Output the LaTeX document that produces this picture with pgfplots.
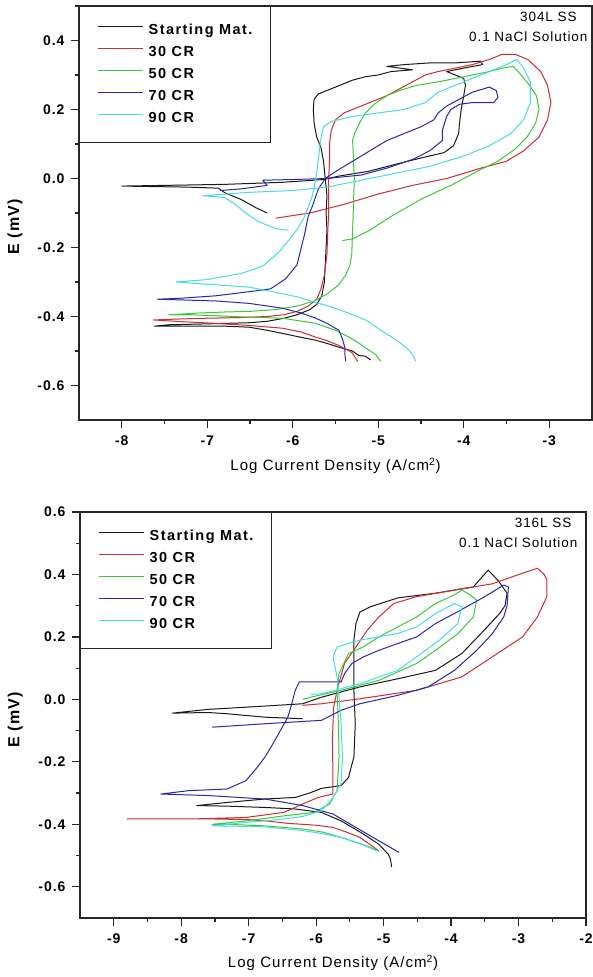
\documentclass[border=0pt]{standalone}
\usepackage{pgfplots}
\pgfplotsset{compat=1.18}
\usepackage{fontspec}
\setmainfont{Liberation Sans}
\newfontfamily\lsans[LetterSpace=7]{Liberation Sans}
\newfontfamily\lgsans[LetterSpace=10]{Liberation Sans}
\definecolor{cblack}{RGB}{25,25,25}
\definecolor{cred}{RGB}{205,45,45}
\definecolor{cgreen}{RGB}{60,200,60}
\definecolor{cblue}{RGB}{40,40,170}
\definecolor{ccyan}{RGB}{70,220,225}
\pgfplotsset{
  pol/.style={
    scale only axis,
    axis line style={black!85, line width=1.4pt},
    tick align=outside,
    xtick pos=left, ytick pos=left,
    major tick length=8pt, minor tick length=4pt,
    every tick/.style={black!85, line width=1.2pt},
    minor x tick num=1, minor y tick num=1,
    ymin=-0.7,
    ytick={-0.6,-0.4,-0.2,0,0.2,0.4,0.6},
    ticklabel style={font=\fontsize{14}{16}\lsans\bfseries},
    /pgf/number format/assume math mode=true,
    yticklabel style={xshift=-3pt, /pgf/number format/.cd, fixed, fixed zerofill, precision=1},
    xticklabel style={yshift=-4pt, /pgf/number format/.cd, fixed, precision=0},
    xlabel={Log Current Density (A/cm\textsuperscript{2})},
    xlabel style={font=\fontsize{15}{17}\lsans, anchor=base},
    ylabel={E (mV)},
    ylabel style={font=\fontsize{16}{18}\lsans\bfseries, anchor=center},
    legend cell align=left,
    legend image code/.code={\draw[#1] (0pt,4pt) -- (45pt,4pt);},
    legend style={at={(0,1)}, anchor=north west, draw=black!85, line width=1.4pt,
      fill=white, inner xsep=18pt, inner ysep=17pt, row sep=8pt, column sep=5pt,
      font=\fontsize{14.5}{16}\lgsans\bfseries,
      nodes={inner sep=0pt, text height=11pt, text depth=3pt}},
    every axis plot/.append style={line width=1.0pt, line join=round},
  }
}
\begin{document}
\begin{tikzpicture}
\useasboundingbox (0,0) rectangle (593pt,977pt);
% ---------------- 304L ----------------
\begin{axis}[pol,
  at={(79pt,557pt)}, anchor=south west,
  width=513pt, height=414pt,
  xmin=-8.5, xmax=-2.5, ymax=0.5,
  xtick={-8,-7,-6,-5,-4,-3},
  xlabel style={at={(axis description cs:0.5,-0.122)}},
  ylabel style={at={(axis description cs:-0.125,0.466)}},
]
\addplot[cblack] coordinates {
(-5.09,-0.526) (-5.15,-0.515) (-5.23,-0.513) (-5.3,-0.50) (-5.42,-0.492) (-5.6,-0.478) (-5.73,-0.469) (-5.95,-0.458) (-6.12,-0.449) (-6.3,-0.44) (-6.51,-0.431) (-6.8,-0.428) (-7.1,-0.428) (-7.4,-0.428) (-7.62,-0.428) (-7.45,-0.424) (-7.1,-0.422) (-6.8,-0.42) (-6.5,-0.418) (-6.3,-0.414) (-6.1,-0.405) (-5.95,-0.395) (-5.8,-0.38) (-5.72,-0.365) (-5.66,-0.34) (-5.63,-0.30) (-5.62,-0.25) (-5.61,-0.2) (-5.6,-0.15) (-5.61,-0.1) (-5.6,-0.05) (-5.62,0.0) (-5.64,0.05) (-5.67,0.09) (-5.72,0.12) (-5.75,0.16) (-5.76,0.20) (-5.75,0.23) (-5.7,0.245) (-5.6,0.255) (-5.5,0.265) (-5.4,0.275) (-5.3,0.285) (-5.15,0.295) (-5.0,0.30) (-4.85,0.31) (-4.6,0.315) (-4.9,0.325) (-4.7,0.33) (-4.4,0.335) (-4.1,0.335) (-3.8,0.34) (-3.78,0.33) (-4.0,0.32) (-4.2,0.31) (-4.0,0.29) (-3.98,0.27) (-4.0,0.24) (-4.03,0.20) (-4.05,0.16) (-4.06,0.13) (-4.12,0.095) (-4.23,0.075) (-4.49,0.06) (-4.8,0.041) (-5.11,0.021) (-5.46,0.007) (-5.64,-0.003) (-6.12,-0.011) (-6.79,-0.017) (-7.5,-0.02) (-8.0,-0.022) (-7.23,-0.025) (-6.87,-0.028) (-6.79,-0.042) (-6.61,-0.06) (-6.5,-0.075) (-6.43,-0.085) (-6.3,-0.1)
};
\addlegendentry{Starting Mat.}
\addplot[cred] coordinates {
(-5.24,-0.53) (-5.28,-0.515) (-5.31,-0.504) (-5.46,-0.484) (-5.6,-0.47) (-5.73,-0.46) (-5.9,-0.445) (-6.12,-0.434) (-6.51,-0.426) (-6.9,-0.42) (-7.3,-0.415) (-7.63,-0.41) (-7.3,-0.407) (-7.0,-0.405) (-6.6,-0.403) (-6.3,-0.40) (-6.1,-0.395) (-5.95,-0.385) (-5.82,-0.37) (-5.72,-0.35) (-5.67,-0.32) (-5.63,-0.28) (-5.6,-0.22) (-5.59,-0.15) (-5.58,-0.1) (-5.58,-0.05) (-5.58,0.0) (-5.57,0.05) (-5.57,0.1) (-5.55,0.14) (-5.5,0.17) (-5.4,0.19) (-5.25,0.205) (-5.1,0.22) (-4.9,0.24) (-4.75,0.26) (-4.6,0.28) (-4.45,0.30) (-4.3,0.31) (-4.1,0.32) (-3.9,0.33) (-3.7,0.345) (-3.55,0.36) (-3.4,0.36) (-3.25,0.345) (-3.1,0.31) (-3.02,0.27) (-2.98,0.22) (-3.02,0.17) (-3.12,0.12) (-3.3,0.08) (-3.5,0.05) (-3.8,0.03) (-4.2,0.0) (-4.6,-0.02) (-5.0,-0.045) (-5.4,-0.075) (-5.8,-0.10) (-6.2,-0.115)
};
\addlegendentry{30 CR}
\addplot[cgreen] coordinates {
(-4.97,-0.53) (-5.03,-0.51) (-5.11,-0.498) (-5.22,-0.478) (-5.34,-0.46) (-5.5,-0.44) (-5.73,-0.42) (-6.12,-0.405) (-6.51,-0.402) (-6.9,-0.398) (-7.2,-0.395) (-7.45,-0.395) (-7.1,-0.39) (-6.8,-0.387) (-6.5,-0.385) (-6.2,-0.38) (-5.95,-0.37) (-5.75,-0.355) (-5.6,-0.335) (-5.47,-0.31) (-5.38,-0.28) (-5.33,-0.25) (-5.31,-0.22) (-5.3,-0.15) (-5.29,-0.08) (-5.28,0.0) (-5.29,0.06) (-5.3,0.11) (-5.27,0.135) (-5.22,0.16) (-5.15,0.19) (-5.05,0.215) (-4.9,0.24) (-4.75,0.255) (-4.55,0.27) (-4.3,0.28) (-4.1,0.29) (-3.9,0.30) (-3.7,0.31) (-3.55,0.32) (-3.42,0.325) (-3.33,0.30) (-3.23,0.27) (-3.15,0.24) (-3.12,0.20) (-3.16,0.16) (-3.26,0.12) (-3.4,0.085) (-3.6,0.05) (-3.85,0.02) (-4.15,-0.02) (-4.5,-0.06) (-4.85,-0.11) (-5.1,-0.15) (-5.3,-0.175) (-5.42,-0.18)
};
\addlegendentry{50 CR}
\addplot[cblue] coordinates {
(-5.38,-0.53) (-5.39,-0.51) (-5.39,-0.49) (-5.42,-0.465) (-5.46,-0.44) (-5.6,-0.42) (-5.73,-0.405) (-5.9,-0.39) (-6.12,-0.376) (-6.51,-0.362) (-6.9,-0.355) (-7.3,-0.352) (-7.58,-0.35) (-7.3,-0.347) (-6.9,-0.34) (-6.57,-0.33) (-6.26,-0.32) (-6.08,-0.29) (-5.95,-0.25) (-5.9,-0.2) (-5.86,-0.16) (-5.82,-0.11) (-5.77,-0.08) (-5.7,-0.03) (-5.62,0.0) (-5.5,0.02) (-5.3,0.05) (-5.1,0.08) (-4.9,0.11) (-4.7,0.13) (-4.5,0.15) (-4.35,0.17) (-4.3,0.19) (-4.2,0.21) (-4.05,0.23) (-3.9,0.25) (-3.7,0.265) (-3.62,0.255) (-3.6,0.235) (-3.65,0.22) (-3.9,0.22) (-4.05,0.215) (-4.15,0.2) (-4.2,0.18) (-4.25,0.14) (-4.25,0.11) (-4.4,0.08) (-4.6,0.055) (-4.9,0.03) (-5.2,0.01) (-5.6,0.0) (-6.0,-0.003) (-6.35,-0.005) (-6.3,-0.02) (-6.6,-0.03) (-6.85,-0.035)
};
\addlegendentry{70 CR}
\addplot[ccyan] coordinates {
(-4.56,-0.53) (-4.6,-0.51) (-4.64,-0.498) (-4.75,-0.475) (-4.84,-0.46) (-5.0,-0.435) (-5.14,-0.411) (-5.35,-0.39) (-5.54,-0.373) (-5.75,-0.358) (-5.93,-0.344) (-6.2,-0.33) (-6.51,-0.315) (-6.8,-0.31) (-7.1,-0.305) (-7.36,-0.30) (-7.0,-0.293) (-6.6,-0.275) (-6.35,-0.254) (-6.17,-0.215) (-6.04,-0.177) (-5.95,-0.148) (-5.86,-0.11) (-5.77,-0.05) (-5.73,0.0) (-5.7,0.055) (-5.68,0.10) (-5.66,0.13) (-5.64,0.15) (-5.55,0.165) (-5.3,0.18) (-5.0,0.19) (-4.7,0.20) (-4.45,0.22) (-4.3,0.25) (-4.1,0.27) (-3.9,0.29) (-3.7,0.31) (-3.5,0.33) (-3.38,0.345) (-3.3,0.32) (-3.22,0.28) (-3.22,0.22) (-3.3,0.17) (-3.45,0.13) (-3.7,0.095) (-4.0,0.065) (-4.4,0.035) (-4.8,0.015) (-5.2,-0.005) (-5.6,-0.025) (-6.0,-0.035) (-6.5,-0.04) (-7.05,-0.05) (-6.8,-0.055) (-6.7,-0.07) (-6.55,-0.1) (-6.4,-0.125) (-6.2,-0.145) (-6.05,-0.15)
};
\addlegendentry{90 CR}
\node[anchor=east, font=\fontsize{13.5}{15}\lsans] at (axis description cs:0.977,0.973) {304L SS};
\node[anchor=east, font=\fontsize{13.5}{15}\lsans] at (axis description cs:0.998,0.925) {0.1 NaCl Solution};
\end{axis}
% ---------------- 316L ----------------
\begin{axis}[pol,
  at={(80pt,59pt)}, anchor=south west,
  width=506pt, height=406pt,
  xmin=-9.5, xmax=-2, ymax=0.6,
  xtick={-9,-8,-7,-6,-5,-4,-3,-2},
  xlabel style={at={(axis description cs:0.5,-0.122)}},
  ylabel style={at={(axis description cs:-0.128,0.488)}},
]
\addplot[cblack] coordinates {
(-4.88,-0.536) (-4.9,-0.51) (-4.93,-0.496) (-5.07,-0.464) (-5.3,-0.431) (-5.63,-0.389) (-5.92,-0.362) (-6.31,-0.351) (-6.76,-0.346) (-7.3,-0.342) (-7.77,-0.34) (-7.32,-0.33) (-6.76,-0.319) (-6.31,-0.314) (-6.1,-0.30) (-5.92,-0.285) (-5.63,-0.276) (-5.52,-0.25) (-5.46,-0.2) (-5.44,-0.185) (-5.42,-0.078) (-5.44,0.029) (-5.44,0.1) (-5.44,0.19) (-5.41,0.243) (-5.35,0.28) (-5.19,0.297) (-4.79,0.325) (-4.23,0.34) (-3.67,0.36) (-3.45,0.414) (-3.3,0.38) (-3.17,0.34) (-3.2,0.30) (-3.28,0.275) (-3.56,0.21) (-3.84,0.147) (-4.23,0.093) (-4.79,0.066) (-5.35,0.04) (-5.92,0.007) (-6.2,-0.014) (-7.04,-0.025) (-7.6,-0.032) (-8.13,-0.044) (-7.6,-0.042) (-7.32,-0.046) (-6.76,-0.057) (-6.2,-0.062)
};
\addlegendentry{Starting Mat.}
\addplot[cred] coordinates {
(-5.07,-0.485) (-5.2,-0.465) (-5.35,-0.442) (-5.55,-0.425) (-5.75,-0.41) (-6.0,-0.403) (-6.2,-0.4) (-6.42,-0.397) (-6.7,-0.39) (-7.0,-0.385) (-7.5,-0.383) (-8.0,-0.383) (-8.8,-0.383) (-7.88,-0.383) (-7.04,-0.378) (-6.48,-0.362) (-6.2,-0.335) (-5.97,-0.314) (-5.75,-0.303) (-5.75,-0.239) (-5.76,-0.132) (-5.74,-0.025) (-5.69,0.029) (-5.58,0.115) (-5.41,0.168) (-5.24,0.222) (-5.07,0.264) (-4.85,0.307) (-4.51,0.329) (-3.95,0.35) (-3.39,0.37) (-2.94,0.404) (-2.72,0.42) (-2.62,0.40) (-2.58,0.382) (-2.58,0.329) (-2.72,0.264) (-2.94,0.2) (-3.39,0.136) (-3.84,0.072) (-4.51,0.029) (-5.35,0.002) (-5.92,-0.014) (-6.2,-0.019)
};
\addlegendentry{30 CR}
\addplot[cgreen] coordinates {
(-5.07,-0.485) (-5.3,-0.465) (-5.63,-0.442) (-5.9,-0.425) (-6.2,-0.415) (-6.76,-0.405) (-7.32,-0.4) (-7.54,-0.4) (-7.04,-0.389) (-6.48,-0.373) (-6.03,-0.362) (-5.8,-0.335) (-5.69,-0.292) (-5.66,-0.185) (-5.67,-0.078) (-5.69,0.029) (-5.66,0.082) (-5.52,0.147) (-5.3,0.168) (-5.07,0.2) (-4.79,0.232) (-4.51,0.264) (-4.23,0.307) (-3.95,0.335) (-3.84,0.35) (-3.72,0.335) (-3.62,0.318) (-3.67,0.264) (-3.9,0.21) (-4.23,0.157) (-4.51,0.115) (-5.07,0.061) (-5.63,0.029) (-6.08,0.007) (-6.2,0.0)
};
\addlegendentry{50 CR}
\addplot[cblue] coordinates {
(-4.77,-0.49) (-5.07,-0.453) (-5.41,-0.41) (-5.75,-0.367) (-6.2,-0.34) (-6.76,-0.319) (-7.6,-0.308) (-8.3,-0.303) (-7.88,-0.292) (-7.32,-0.287) (-7.04,-0.26) (-6.87,-0.217) (-6.76,-0.185) (-6.64,-0.142) (-6.53,-0.1) (-6.42,-0.057) (-6.36,-0.014) (-6.31,0.029) (-6.25,0.056) (-5.63,0.056) (-5.58,0.082) (-5.47,0.115) (-5.3,0.136) (-5.07,0.157) (-4.79,0.179) (-4.51,0.2) (-4.23,0.243) (-3.95,0.275) (-3.5,0.329) (-3.22,0.366) (-3.15,0.36) (-3.17,0.30) (-3.22,0.264) (-3.39,0.21) (-3.62,0.157) (-3.95,0.093) (-4.34,0.04) (-4.79,0.013) (-5.35,-0.014) (-5.63,-0.035) (-5.92,-0.067) (-6.76,-0.078) (-7.54,-0.089)
};
\addlegendentry{70 CR}
\addplot[ccyan] coordinates {
(-5.1,-0.485) (-5.35,-0.462) (-5.63,-0.442) (-5.9,-0.43) (-6.2,-0.42) (-6.76,-0.408) (-7.2,-0.406) (-7.54,-0.405) (-7.04,-0.394) (-6.48,-0.383) (-6.2,-0.375) (-5.92,-0.357) (-5.75,-0.314) (-5.63,-0.271) (-5.61,-0.185) (-5.63,-0.078) (-5.66,0.007) (-5.69,0.072) (-5.75,0.136) (-5.69,0.168) (-5.35,0.19) (-4.79,0.211) (-4.51,0.232) (-4.23,0.275) (-3.95,0.307) (-3.84,0.296) (-3.9,0.243) (-4.17,0.19) (-4.51,0.136) (-4.79,0.093) (-5.35,0.05) (-5.92,0.018) (-6.08,0.016)
};
\addlegendentry{90 CR}
\node[anchor=east, font=\fontsize{13.5}{15}\lsans] at (axis description cs:0.978,0.973) {316L SS};
\node[anchor=east, font=\fontsize{13.5}{15}\lsans] at (axis description cs:0.99,0.924) {0.1 NaCl Solution};
\end{axis}
\end{tikzpicture}
\end{document}
